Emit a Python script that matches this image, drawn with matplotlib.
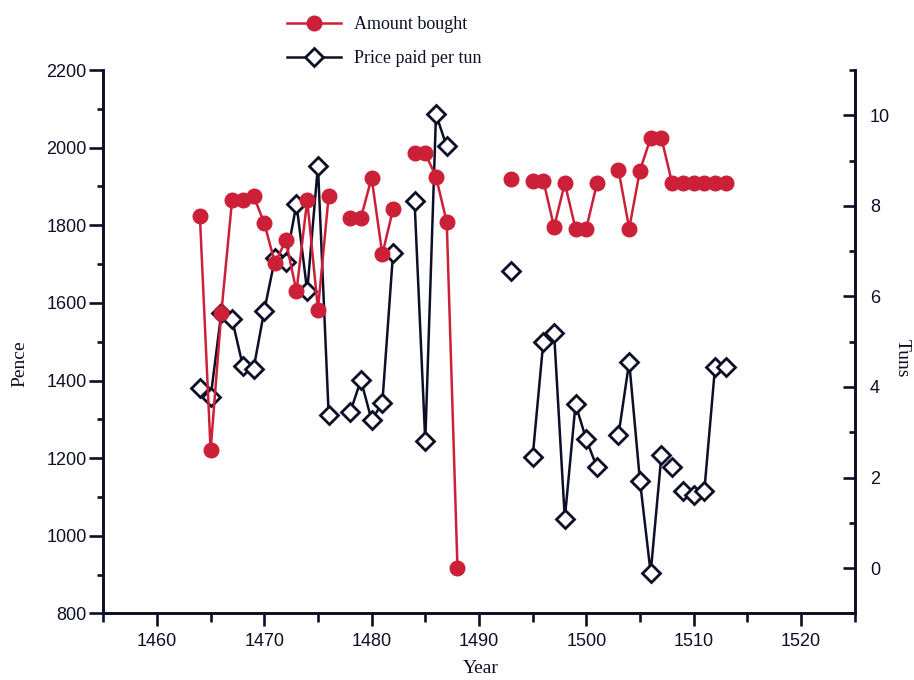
import numpy as np
import matplotlib
matplotlib.use("Agg")
import matplotlib.pyplot as plt
from matplotlib.ticker import MultipleLocator

# ---- data ----
amount_years = [1464, 1465, 1466, 1467, 1468, 1469, 1470, 1471, 1472, 1473, 1474, 1475, 1476,
                1478, 1479, 1480, 1481, 1482,
                1484, 1485, 1486, 1487, 1488,
                1493,
                1495, 1496, 1497, 1498, 1499, 1500, 1501,
                1503, 1504, 1505, 1506, 1507, 1508, 1509, 1510, 1511, 1512, 1513]
amount_tuns = [7.78, 2.6, 5.64, 8.13, 8.13, 8.22, 7.62, 6.73, 7.24, 6.11, 8.13, 5.71, 8.22,
               7.73, 7.73, 8.62, 6.93, 7.93,
               9.16, 9.16, 8.64, 7.64, 0.0,
               8.6,
               8.56, 8.56, 7.53, 8.5, 7.5, 7.5, 8.5,
               8.8, 7.5, 8.78, 9.5, 9.5, 8.5, 8.5, 8.5, 8.5, 8.5, 8.5]
# runs of consecutive points joined by a line (first year, last year)
amount_runs = [(1464, 1476), (1478, 1482), (1484, 1488), (1493, 1493),
               (1495, 1501), (1503, 1513)]

price_years = [1464, 1465, 1466, 1467, 1468, 1469, 1470, 1471, 1472, 1473, 1474, 1475, 1476,
               1478, 1479, 1480, 1481, 1482,
               1484, 1485, 1486, 1487,
               1493,
               1495, 1496, 1497, 1498, 1499, 1500, 1501,
               1503, 1504, 1505, 1506, 1507, 1508, 1509, 1510, 1511, 1512, 1513]
price_pence = [1381, 1357, 1575, 1558, 1438, 1430, 1580, 1715, 1705, 1855, 1630, 1954, 1311,
               1318, 1401, 1298, 1342, 1729,
               1863, 1243, 2086, 2003,
               1682,
               1202, 1500, 1523, 1044, 1339, 1248, 1176,
               1259, 1448, 1142, 904, 1207, 1176, 1116, 1106, 1116, 1435, 1435]
price_runs = [(1464, 1476), (1478, 1482), (1484, 1487), (1493, 1493),
              (1495, 1501), (1503, 1507), (1508, 1508), (1509, 1513)]

RED = "#cc2038"
DARK = "#0d0f26"

tick_font = ["Liberation Sans Narrow", "Liberation Sans", "DejaVu Sans"]
label_font = ["Liberation Serif", "DejaVu Serif"]

fig = plt.figure(figsize=(9.14, 6.80), dpi=100)
ax = fig.add_axes([0.113, 0.098, 0.822, 0.799])
ax2 = ax.twinx()

def draw(axis, years, vals, runs, **kw):
    years = np.asarray(years)
    vals = np.asarray(vals, dtype=float)
    label = kw.pop("label", None)
    first = True
    for a, b in runs:
        m = (years >= a) & (years <= b)
        axis.plot(years[m], vals[m], label=label if first else None, **kw)
        first = False

draw(ax, price_years, price_pence, price_runs, color=DARK, lw=1.8, marker="D",
     markersize=9, markerfacecolor="white", markeredgecolor=DARK, markeredgewidth=2.0,
     label="Price paid per tun", zorder=3)
draw(ax2, amount_years, amount_tuns, amount_runs, color=RED, lw=1.8, marker="o",
     markersize=10.5, markerfacecolor=RED, markeredgecolor=RED,
     label="Amount bought", zorder=3)

ax.set_xlim(1455, 1525)
ax2.set_xlim(1455, 1525)
ax.set_ylim(800, 2200)
ax2.set_ylim(-1, 11)

ax.xaxis.set_major_locator(MultipleLocator(10))
ax.xaxis.set_minor_locator(MultipleLocator(5))
ax.yaxis.set_major_locator(MultipleLocator(200))
ax.yaxis.set_minor_locator(MultipleLocator(100))
ax2.yaxis.set_major_locator(MultipleLocator(2))
ax2.yaxis.set_minor_locator(MultipleLocator(1))

for a in (ax, ax2):
    a.spines["top"].set_visible(False)
    for s in a.spines.values():
        s.set_linewidth(1.9)
        s.set_color(DARK)
    a.tick_params(which="both", width=1.9, colors=DARK, labelsize=13)

ax.tick_params(axis="x", which="major", direction="out", length=9.5, pad=5)
ax.tick_params(axis="x", which="minor", direction="out", length=6.5)
ax.tick_params(axis="y", which="major", direction="out", length=10, pad=2)
ax.tick_params(axis="y", which="minor", direction="out", length=4)
ax2.tick_params(axis="y", which="major", direction="in", length=9, pad=11)
ax2.tick_params(axis="y", which="minor", direction="in", length=4)

for a in (ax, ax2):
    for lab in a.get_xticklabels() + a.get_yticklabels():
        lab.set_family(tick_font)

ax.set_xlabel("Year", family=label_font, fontsize=14, color=DARK, va="center")
ax.xaxis.set_label_coords(0.502, -0.102)
ax.set_ylabel("Pence", family=label_font, fontsize=14, color=DARK, va="center")
ax.yaxis.set_label_coords(-0.111, 0.46)
ax2.set_ylabel("Tuns", family=label_font, fontsize=14, color=DARK, rotation=270,
               va="center", ha="center")
ax2.yaxis.set_label_coords(1.064, 0.47)

h1, l1 = ax2.get_legend_handles_labels()
h2, l2 = ax.get_legend_handles_labels()
leg = fig.legend(h1 + h2, l1 + l2, loc="upper left", bbox_to_anchor=(0.296, 1.0),
                 frameon=False, handlelength=3.0, labelspacing=0.95, handletextpad=0.7,
                 prop={"family": label_font, "size": 13})
for t in leg.get_texts():
    t.set_color(DARK)

fig.savefig("out.png", dpi=100)
